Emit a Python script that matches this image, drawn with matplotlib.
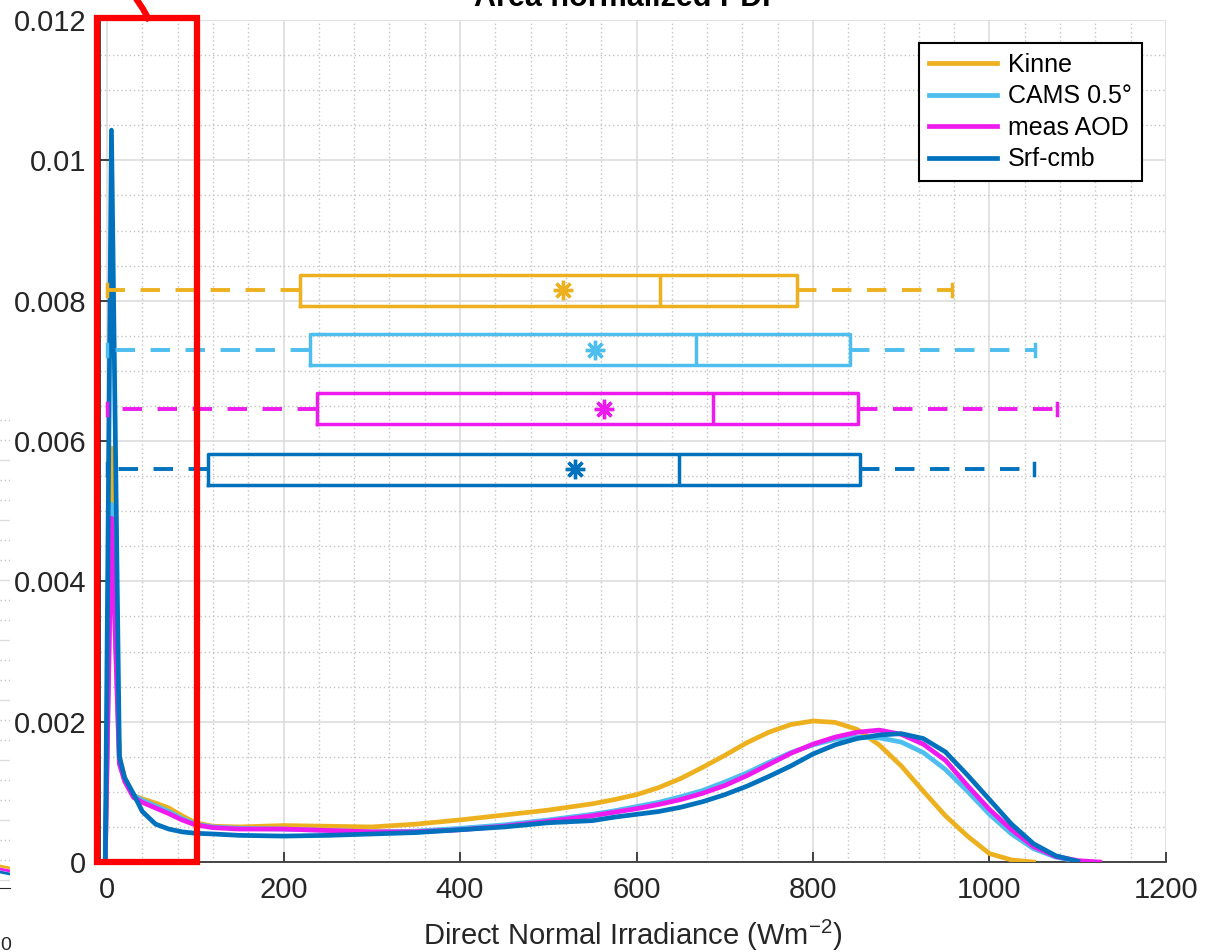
import matplotlib
matplotlib.use("Agg")
import matplotlib.pyplot as plt
import numpy as np
from matplotlib.ticker import MultipleLocator
from matplotlib.lines import Line2D
from matplotlib.patches import Rectangle

plt.rcParams['font.family'] = ['Liberation Sans', 'DejaVu Sans']

# PDF curves
dni = [-2, 5, 14, 20, 30, 40, 55, 70, 85, 100, 120, 150, 200, 250, 300, 350, 400, 450, 500,
       550, 575, 600, 625, 650, 675, 700, 725, 750, 775, 800, 825, 850, 875, 900, 925, 950,
       975, 1000, 1025, 1050, 1075, 1100, 1125]

pdf_kinne = [0, 0.0059, 0.0015, 0.0012, 0.00095, 0.0009, 0.00084, 0.00077, 0.00066, 0.00056,
             0.00051, 0.0005, 0.00052, 0.00051, 0.0005, 0.00054, 0.0006, 0.00067, 0.00074,
             0.00083, 0.00089, 0.00096, 0.00106, 0.00119, 0.00135, 0.00152, 0.0017, 0.00185,
             0.00196, 0.00201, 0.00199, 0.00189, 0.00167, 0.00137, 0.00101, 0.00066, 0.00037,
             0.00012, 0.00003, 0.0, np.nan, np.nan, np.nan]
pdf_cams = [0, 0.0051, 0.0014, 0.00118, 0.00095, 0.00088, 0.0008, 0.00072, 0.00062, 0.00054,
            0.0005, 0.00048, 0.00047, 0.00045, 0.00043, 0.00044, 0.00048, 0.00053, 0.0006,
            0.00068, 0.00073, 0.00079, 0.00085, 0.00093, 0.00102, 0.00114, 0.00127, 0.00142,
            0.00156, 0.00167, 0.00175, 0.00178, 0.00177, 0.00171, 0.00156, 0.00132, 0.00101,
            0.00068, 0.0004, 0.00019, 0.00007, 0.00001, np.nan]
pdf_meas = [0, 0.0049, 0.0014, 0.00115, 0.00092, 0.00085, 0.00077, 0.00069, 0.0006, 0.00053,
            0.00049, 0.00047, 0.00047, 0.00045, 0.00043, 0.00043, 0.00046, 0.00051, 0.00058,
            0.00066, 0.00071, 0.00076, 0.00082, 0.00089, 0.00098, 0.00109, 0.00123, 0.00139,
            0.00155, 0.00168, 0.00178, 0.00185, 0.00188, 0.00182, 0.00168, 0.00145, 0.00109,
            0.00075, 0.00046, 0.00022, 0.00008, 0.00002, 0.0]
pdf_srf = [0, 0.01043, 0.0015, 0.0012, 0.00097, 0.00072, 0.00054, 0.00047, 0.00043, 0.00041,
           0.0004, 0.00038, 0.00037, 0.00038, 0.0004, 0.00042, 0.00046, 0.0005, 0.00056,
           0.00059, 0.00064, 0.00068, 0.00072, 0.00078, 0.00086, 0.00096, 0.00108, 0.00122,
           0.00137, 0.00154, 0.00167, 0.00176, 0.00181, 0.00183, 0.00176, 0.00157, 0.00124,
           0.00089, 0.00054, 0.00026, 0.00009, 0.00001, np.nan]

names = ['Kinne', 'CAMS 0.5°', 'meas AOD', 'Srf-cmb']
colors = ['#EDB120', '#4DBEEE', '#EE1BEE', '#0072BD']

# box plot statistics (W m-2)
box_pos = [0.00815, 0.0073, 0.00646, 0.0056]
whis_lo = [0, 0, 0, 0]
q1 = [219, 230, 238, 114]
med = [627, 667, 687, 648]
q3 = [782, 842, 851, 853]
whis_hi = [958, 1052, 1076, 1050]
means = [517, 553, 563, 530]

fig = plt.figure(figsize=(12.09, 9.52), dpi=100)
ax = fig.add_axes([0.0827, 0.0945, 0.8817, 0.8845])

handles = []
for yv, c, n in zip([pdf_kinne, pdf_cams, pdf_meas, pdf_srf], colors, names):
    h, = ax.plot(dni, yv, color=c, lw=3.4, label=n, solid_joinstyle='round', zorder=3)
    handles.append(h)

for i in range(4):
    st = [dict(med=med[i], q1=q1[i], q3=q3[i], whislo=whis_lo[i], whishi=whis_hi[i],
               mean=means[i], fliers=[])]
    c = colors[i]
    ax.bxp(st, positions=[box_pos[i]], widths=0.00044, orientation='horizontal',
           showmeans=True, manage_ticks=False, capwidths=0.00017,
           boxprops=dict(color=c, lw=2.5),
           whiskerprops=dict(color=c, lw=2.8, linestyle=(0, (5, 4))),
           capprops=dict(color=c, lw=2.5),
           medianprops=dict(color=c, lw=2.5),
           meanprops=dict(marker=(8, 2, 0), markeredgecolor=c, markerfacecolor=c,
                          markersize=14, markeredgewidth=2.4),
           zorder=4)

ax.set_xlim(-8, 1200)
ax.set_ylim(0, 0.012)
ax.xaxis.set_major_locator(MultipleLocator(200))
ax.xaxis.set_minor_locator(MultipleLocator(40))
ax.yaxis.set_major_locator(MultipleLocator(0.002))
ax.yaxis.set_minor_locator(MultipleLocator(0.0005))
ax.set_yticks([0, 0.002, 0.004, 0.006, 0.008, 0.01, 0.012])
ax.set_yticklabels(['0', '0.002', '0.004', '0.006', '0.008', '0.01', '0.012'])
ax.grid(which='major', color='#DDDDDD', lw=1.2, ls='-')
ax.grid(which='minor', color='#C4C4C4', lw=1, ls=(0, (1, 2)))
ax.set_axisbelow(True)
ax.tick_params(which='major', direction='in', length=7, width=1.2, labelsize=21,
               colors='#262626', pad=10)
ax.tick_params(which='minor', length=0)
for s in ['top', 'right']:
    ax.spines[s].set_visible(False)
for s in ['left', 'bottom']:
    ax.spines[s].set_color('#262626')
    ax.spines[s].set_linewidth(1.2)

ax.set_xlabel('Direct Normal Irradiance (Wm$^{\\mathregular{-2}}$)', fontsize=21,
              color='#262626', labelpad=10)

leg = ax.legend(handles=handles, loc='upper right', bbox_to_anchor=(0.9775, 0.9727),
                borderaxespad=0, fontsize=18, frameon=True, fancybox=False,
                edgecolor='black', handlelength=2.7, labelspacing=0.3, borderpad=0.4,
                handletextpad=0.45)
leg.get_frame().set_linewidth(1.5)
leg.get_frame().set_facecolor('white')
leg.get_frame().set_alpha(1)
for lh in leg.get_lines():
    lh.set_linewidth(3.4)

# cut-off title
fig.text(627 / 1209, 1 - 6 / 952, 'Area normalized PDF', ha='center', va='baseline',
         fontsize=22, fontweight='bold', color='black')

# red highlight annotation
fig.add_artist(Rectangle((97 / 1209, 1 - 862 / 952), 100 / 1209, 844 / 952,
                         transform=fig.transFigure, fill=False, edgecolor='red', lw=4.5,
                         zorder=10))
fig.add_artist(Line2D([137 / 1209, 143 / 1209, 148 / 1209], [1.0, 1 - 9 / 952, 1 - 18 / 952],
                      transform=fig.transFigure, color='red', lw=4.5, zorder=10))

# sliver of a neighbouring figure at the left edge
ax2 = fig.add_axes([0, 1 - 888 / 952, 10 / 1209, 488 / 952])
ax2.set_xlim(0, 1)
ax2.set_ylim(0, 488)
for k, yy in enumerate(range(8, 488, 20)):
    if k % 3 == 0:
        ax2.axhline(yy, color='#DDDDDD', lw=1)
    else:
        ax2.axhline(yy, color='#C4C4C4', lw=1, ls=(0, (1, 2)))
ax2.plot([0, 1], [22, 20], color='#EDB120', lw=2)
ax2.plot([0, 1], [19, 17], color='#EE1BEE', lw=2)
ax2.plot([0, 1], [16, 14], color='#0072BD', lw=2)
ax2.set_xticks([])
ax2.set_yticks([])
for s in ['top', 'right', 'left']:
    ax2.spines[s].set_visible(False)
ax2.spines['bottom'].set_color('#262626')
fig.text(0.0, 1 - 945 / 952, '0', fontsize=14, color='#262626', ha='left', va='center')

fig.savefig('out.png', dpi=100)
